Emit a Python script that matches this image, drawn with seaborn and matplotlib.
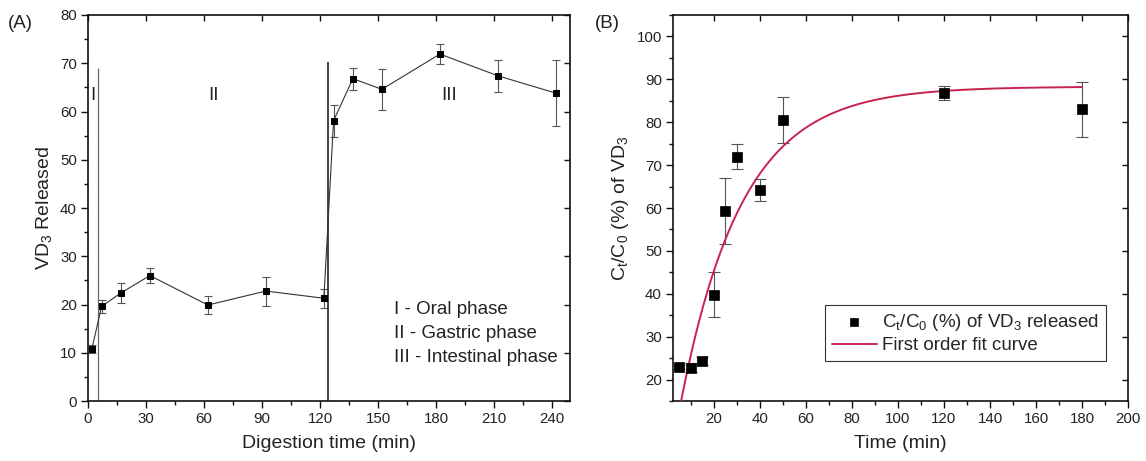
import numpy as np
import pandas as pd
import matplotlib
matplotlib.use("Agg")
import matplotlib.pyplot as plt
from matplotlib.ticker import MultipleLocator
import seaborn as sns

# ---------------- data: panel A ----------------
time_a = [2, 7, 17, 32, 62, 92, 122, 127, 137, 152, 182, 212, 242]
release_a = [10.8, 19.6, 22.4, 26.0, 19.9, 22.8, 21.3, 58.1, 66.8, 64.6, 71.9, 67.4, 63.8]
err_a = [0.8, 1.4, 2.0, 1.5, 1.8, 3.0, 2.0, 3.3, 2.3, 4.2, 2.0, 3.3, 6.9]
phase_bounds = [5, 124]
phase_line_tops = [69.0, 70.3]
phase_names = ["I", "II", "III"]
phase_name_x = [2.4, 65, 187]
phase_legend = ["I - Oral phase", "II - Gastric phase", "III - Intestinal phase"]

# ---------------- data: panel B ----------------
time_b = [5, 10, 15, 20, 25, 30, 40, 50, 120, 180]
ratio_b = [22.9, 22.8, 24.3, 39.8, 59.2, 72.0, 64.2, 80.5, 86.8, 83.0]
err_b = [0.5, 1.0, 1.0, 5.3, 7.7, 3.0, 2.5, 5.4, 1.6, 6.4]
# first-order fit parameters: C = A * (1 - exp(-k (t - t0)))
fit_A = 88.3
fit_k = 0.0375
fit_t0 = 0.74
fit_t_end = 180

sns.set_theme(style="ticks")
plt.rcParams["font.family"] = ["Liberation Sans", "DejaVu Sans"]
plt.rcParams["mathtext.default"] = "regular"
plt.rcParams["axes.linewidth"] = 1.2

fig = plt.figure(figsize=(11.46, 4.61), dpi=100)
axA = fig.add_axes([0.0768, 0.130, 0.4206, 0.8375])
axB = fig.add_axes([0.5873, 0.130, 0.3970, 0.8375])

tick_fs = 10.8
label_fs = 14
dark = "#222222"

# ---------------- panel A ----------------
dfA = pd.DataFrame({"t": time_a, "r": release_a})
axA.errorbar(time_a, release_a, yerr=err_a, fmt="none", ecolor="#555555",
             elinewidth=0.8, capsize=3, capthick=0.8, zorder=2)
sns.lineplot(data=dfA, x="t", y="r", ax=axA, color="#333333", lw=0.8,
             marker="s", markersize=4, markerfacecolor="black",
             markeredgecolor="black", zorder=3, sort=False)
axA.vlines(phase_bounds[0], 0, phase_line_tops[0], color="#666666", lw=0.9)
axA.vlines(phase_bounds[1], 0, phase_line_tops[1], color="#111111", lw=1.1)
for name, x in zip(phase_names, phase_name_x):
    axA.text(x, 63.4, name, fontsize=13.5, ha="center", va="center", color=dark)
for i, s in enumerate(phase_legend):
    axA.text(158.5, 18.9 - 4.9 * i, s, fontsize=13.5, ha="left", va="center", color=dark)

axA.set_xlim(0, 249.3)
axA.set_ylim(0, 80)
axA.xaxis.set_major_locator(MultipleLocator(30))
axA.xaxis.set_minor_locator(MultipleLocator(15))
axA.yaxis.set_major_locator(MultipleLocator(10))
axA.yaxis.set_minor_locator(MultipleLocator(5))
axA.set_xlabel("Digestion time (min)", fontsize=label_fs, color=dark, labelpad=6)
axA.set_ylabel("VD$_3$ Released", fontsize=label_fs, color=dark, labelpad=4)
fig.text(0.007, 0.94, "(A)", fontsize=13.5, color=dark)

# ---------------- panel B ----------------
dfB = pd.DataFrame({"t": time_b, "c": ratio_b})
t_fit = np.linspace(0, fit_t_end, 400)
dfFit = pd.DataFrame({"t": t_fit, "c": fit_A * (1 - np.exp(-fit_k * (t_fit - fit_t0)))})
axB.errorbar(time_b, ratio_b, yerr=err_b, fmt="none", ecolor="#555555",
             elinewidth=0.8, capsize=4, capthick=0.8, zorder=2)
sns.lineplot(data=dfFit, x="t", y="c", ax=axB, color="#C8234F", lw=1.4,
             label="First order fit curve", zorder=3)
sns.scatterplot(data=dfB, x="t", y="c", ax=axB, marker="s", s=60, color="black",
                edgecolor="black", linewidth=0.5, zorder=4,
                label="C$_t$/C$_0$ (%) of VD$_3$ released")
axB.set_xlim(2.2, 200)
axB.set_ylim(15, 105)
axB.xaxis.set_major_locator(MultipleLocator(20))
axB.xaxis.set_minor_locator(MultipleLocator(10))
axB.yaxis.set_major_locator(MultipleLocator(10))
axB.yaxis.set_minor_locator(MultipleLocator(5))
axB.set_xticks([20, 40, 60, 80, 100, 120, 140, 160, 180, 200])
axB.set_xlabel("Time (min)", fontsize=label_fs, color=dark, labelpad=6)
axB.set_ylabel("C$_t$/C$_0$ (%) of VD$_3$", fontsize=label_fs, color=dark, labelpad=4)
fig.text(0.519, 0.94, "(B)", fontsize=13.5, color=dark)

handles, labels = axB.get_legend_handles_labels()
order = [1, 0]
leg = axB.legend([handles[i] for i in order], [labels[i] for i in order],
                 loc="lower left", bbox_to_anchor=(0.334, 0.104), borderaxespad=0,
                 fontsize=13.5, frameon=True, fancybox=False, framealpha=1,
                 edgecolor="#333333", handlelength=2.4, handletextpad=0.3,
                 borderpad=0.35, labelspacing=0.25, markerscale=0.8)
leg.get_frame().set_linewidth(0.8)

for ax in (axA, axB):
    for sp in ax.spines.values():
        sp.set_visible(True)
        sp.set_color("#111111")
    ax.tick_params(which="major", direction="out", length=5, width=1, labelsize=tick_fs,
                   colors="#111111", labelcolor=dark, pad=3)
    ax.tick_params(which="minor", direction="out", length=3, width=1, colors="#111111")
    sec_x = ax.secondary_xaxis("top")
    sec_y = ax.secondary_yaxis("right")
    for sec in (sec_x, sec_y):
        sec.tick_params(which="major", direction="in", length=4, width=1, labelsize=0,
                        colors="#111111")
        sec.tick_params(which="minor", direction="in", length=2.5, width=1, colors="#111111")
    sec_x.set_xticks(ax.get_xticks())
    sec_y.set_yticks(ax.get_yticks())
    sec_x.set_xticklabels([])
    sec_y.set_yticklabels([])
    sec_x.spines["top"].set_visible(False)
    sec_y.spines["right"].set_visible(False)
    ax.tick_params(which="both", top=False, right=False)

fig.savefig("out.png", dpi=100, facecolor="white")
